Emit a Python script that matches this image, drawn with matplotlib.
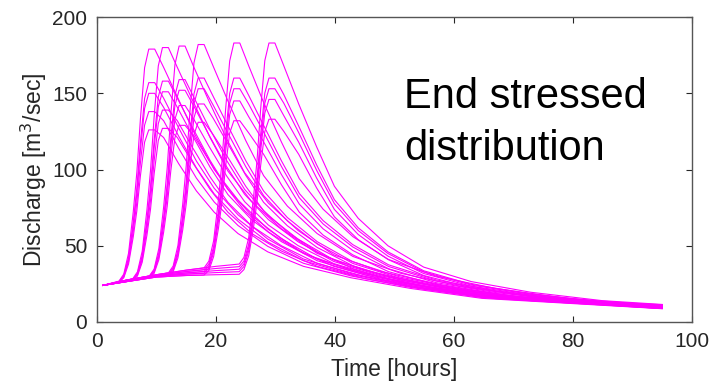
import matplotlib
matplotlib.use("Agg")
import matplotlib.pyplot as plt

plt.rcParams["font.family"] = ["Liberation Sans", "DejaVu Sans"]

# six storm timings (peak early -> late), five storm sizes in each
# hours: baseflow points, rising limb, flat crest
rise_times = [
    [1, 3.7, 4.5, 5.3, 6.1, 6.7, 7.3, 8.0, 8.7, 9.7],
    [1, 5, 6.0, 6.8, 7.6, 8.4, 9.0, 9.6, 10.3, 11.0, 12.0],
    [1, 5, 8.8, 9.6, 10.4, 11.2, 11.8, 12.4, 13.1, 13.8, 14.8],
    [1, 5, 10, 12.0, 12.8, 13.6, 14.4, 15.0, 15.6, 16.3, 17.0, 18.0],
    [1, 5, 10, 15, 18.0, 18.8, 19.6, 20.4, 21.0, 21.6, 22.3, 23.0, 24.0],
    [1, 5, 10, 15, 20, 23.9, 24.7, 25.5, 26.3, 26.9, 27.5, 28.2, 28.9, 29.9],
]

# discharge on the rising side, per timing group, per storm size
rise_q = [
    [
        [24, 26.8, 31.4, 45.1, 72.5, 98.3, 133.3, 166.8, 179, 179],
        [24, 26.6, 30.5, 42.2, 65.7, 87.9, 117.9, 146.6, 157, 157],
        [24, 26.4, 30.1, 41.2, 63.5, 84.5, 112.9, 140.1, 150, 150],
        [24, 26.2, 29.6, 39.6, 59.7, 78.7, 104.5, 129.1, 138, 138],
        [24, 26.0, 29.0, 38.0, 56.0, 73.0, 96.0, 118.0, 126, 126],
    ],
    [
        [24, 27.5, 28.3, 32.9, 46.5, 73.8, 99.6, 134.5, 167.9, 180, 180],
        [24, 27.2, 28.0, 31.9, 43.6, 67.0, 89.1, 119.0, 147.6, 158, 158],
        [24, 27.0, 27.8, 31.5, 42.6, 64.8, 85.7, 114.0, 141.1, 151, 151],
        [24, 26.7, 27.5, 30.8, 40.9, 61.0, 79.9, 105.5, 130.1, 139, 139],
        [24, 26.5, 27.2, 30.2, 39.2, 57.1, 74.1, 97.1, 119.0, 127, 127],
    ],
    [
        [24, 27.5, 30.2, 34.7, 48.3, 75.4, 101.1, 135.8, 168.9, 181, 181],
        [24, 27.2, 29.9, 33.8, 45.4, 68.6, 90.6, 120.3, 148.7, 159, 159],
        [24, 27.0, 29.5, 33.2, 44.2, 66.3, 87.1, 115.3, 142.2, 152, 152],
        [24, 26.7, 29.2, 32.6, 42.7, 63.0, 82.2, 108.2, 133.0, 142, 142],
        [24, 26.5, 28.9, 31.9, 40.9, 58.9, 75.9, 99.0, 121.0, 129, 129],
    ],
    [
        [24, 27.5, 31.0, 32.2, 36.7, 50.2, 77.1, 102.6, 137.1, 170.0, 182, 182],
        [24, 27.2, 30.6, 31.6, 35.5, 47.0, 70.1, 91.9, 121.5, 149.7, 160, 160],
        [24, 27.0, 30.2, 31.0, 34.7, 45.6, 67.6, 88.3, 116.4, 143.2, 153, 153],
        [24, 26.7, 29.9, 30.5, 33.9, 44.0, 64.3, 83.4, 109.3, 134.0, 143, 143],
        [24, 26.5, 29.5, 29.9, 32.9, 42.0, 60.2, 77.4, 100.7, 122.9, 131, 131],
    ],
    [
        [24, 27.5, 31.0, 34.0, 35.5, 39.9, 53.2, 79.8, 104.8, 138.8, 171.2, 183, 183],
        [24, 27.2, 30.6, 33.1, 34.3, 38.1, 49.4, 72.0, 93.4, 122.3, 149.9, 160, 160],
        [24, 27.0, 30.2, 32.2, 33.1, 36.7, 47.5, 69.1, 89.5, 117.0, 143.4, 153, 153],
        [24, 26.7, 29.9, 31.4, 32.0, 35.4, 45.6, 65.9, 85.1, 111.1, 136.0, 145, 145],
        [24, 26.5, 29.5, 30.5, 30.8, 33.8, 42.9, 61.2, 78.4, 101.6, 123.9, 132, 132],
    ],
    [
        [24, 27.5, 31.0, 34.0, 36.5, 38.0, 42.4, 55.4, 81.5, 106.2, 139.5, 171.4, 183, 183],
        [24, 27.2, 30.6, 33.1, 35.1, 36.3, 40.0, 51.1, 73.4, 94.4, 122.9, 150.1, 160, 160],
        [24, 27.0, 30.2, 32.2, 33.7, 34.6, 38.2, 48.8, 70.1, 90.2, 117.5, 143.5, 153, 153],
        [24, 26.7, 29.9, 31.4, 32.4, 33.0, 36.4, 46.6, 66.9, 86.1, 112.1, 137.0, 146, 146],
        [24, 26.5, 29.5, 30.5, 31.0, 31.3, 34.4, 43.5, 61.8, 79.1, 102.5, 124.9, 133, 133],
    ],
]

# hours on the falling side (last point = end of run)
fall_times = [
    [11.2, 13.7, 16.7, 19.7, 23.7, 28.7, 34.7, 42.7, 52.7, 64.7, 95],
    [13.5, 16.0, 19.0, 22.0, 26.0, 31.0, 37.0, 45.0, 55.0, 67.0, 95],
    [16.3, 18.8, 21.8, 24.8, 28.8, 33.8, 39.8, 47.8, 57.8, 69.8, 95],
    [19.5, 22.0, 25.0, 28.0, 32.0, 37.0, 43.0, 51.0, 61.0, 73.0, 95],
    [25.5, 28.0, 31.0, 34.0, 38.0, 43.0, 49.0, 57.0, 67.0, 79.0, 95],
    [31.4, 33.9, 36.9, 39.9, 43.9, 48.9, 54.9, 62.9, 72.9, 84.9, 95],
]

# recession discharge, per timing group, per storm size (end value last)
fall_q = [
    [
        [167, 146, 121, 100, 80, 61, 45, 34, 25, 17.5, 9.2],
        [146.8, 127.5, 105.6, 87.7, 70.3, 54.4, 41.3, 31.8, 23.7, 16.6, 9.0],
        [140.8, 122.1, 101.1, 84.0, 67.5, 52.5, 40.2, 31.2, 23.3, 16.4, 8.9],
        [132.0, 114.1, 94.4, 78.7, 63.3, 49.6, 38.5, 30.2, 22.7, 16.0, 8.8],
        [121, 104, 86, 72, 58, 46, 36.5, 29, 22, 15.5, 8.7],
    ],
    [
        [167, 146, 121, 99, 79, 61, 45, 34, 25, 17.5, 9.4],
        [146.8, 128.0, 106.0, 87.1, 69.8, 54.6, 41.3, 31.6, 23.5, 16.5, 9.2],
        [140.8, 122.6, 101.6, 83.6, 67.0, 52.7, 40.2, 30.9, 23.0, 16.2, 9.1],
        [132.0, 114.8, 95.2, 78.5, 63.0, 50.0, 38.5, 29.8, 22.3, 15.8, 9.0],
        [121, 105, 87, 72, 58, 46.5, 36.5, 28.5, 21.5, 15.3, 8.9],
    ],
    [
        [167, 145, 120, 98, 78, 60, 44, 33, 24.5, 17, 9.7],
        [147.2, 127.8, 105.9, 87.0, 69.6, 54.3, 40.7, 30.8, 23.0, 16.1, 9.5],
        [141.4, 122.8, 101.8, 83.8, 67.2, 52.6, 39.7, 30.2, 22.5, 15.9, 9.4],
        [132.8, 115.4, 95.7, 79.0, 63.6, 50.1, 38.3, 29.2, 21.8, 15.5, 9.3],
        [122, 106, 88, 73, 59, 47, 36.5, 28, 21, 15, 9.2],
    ],
    [
        [168, 145, 119, 96, 76, 58, 43, 32, 23.5, 16.5, 10.0],
        [148.2, 128.7, 105.8, 85.9, 68.5, 52.7, 39.5, 29.4, 21.7, 15.4, 9.8],
        [142.4, 123.9, 101.9, 82.9, 66.3, 51.2, 38.4, 28.6, 21.2, 15.1, 9.7],
        [133.8, 116.9, 96.2, 78.5, 63.1, 48.9, 36.9, 27.4, 20.5, 14.6, 9.6],
        [123, 108, 89, 73, 59, 46, 35, 26, 19.5, 14, 9.5],
    ],
    [
        [168, 144, 118, 94, 74, 56, 41, 30, 22, 15.5, 10.7],
        [148.6, 129.0, 105.7, 84.3, 66.5, 50.7, 37.5, 27.6, 20.5, 14.6, 10.5],
        [142.9, 124.6, 102.0, 81.5, 64.3, 49.2, 36.4, 26.9, 20.0, 14.4, 10.4],
        [134.6, 118.2, 96.7, 77.3, 61.1, 46.9, 34.9, 25.8, 19.3, 14.0, 10.3],
        [124, 110, 90, 72, 57, 44, 33, 24.5, 18.5, 13.5, 10.1],
    ],
    [
        [168, 143, 115, 89, 68, 50, 36, 26.5, 19.5, 14, 11.5],
        [149.1, 128.5, 103.1, 80.2, 61.8, 46.0, 33.6, 24.7, 18.4, 13.3, 11.3],
        [143.5, 124.2, 99.6, 77.6, 60.0, 44.9, 32.9, 24.2, 18.1, 13.1, 11.1],
        [135.3, 117.9, 94.5, 73.8, 57.4, 43.2, 31.8, 23.5, 17.6, 12.9, 11.0],
        [125, 110, 88, 69, 54, 41, 30.5, 22.5, 17, 12.5, 10.9],
    ],
]

fig = plt.figure(figsize=(7.26, 3.84), dpi=100)
ax = fig.add_axes([0.1336, 0.1615, 0.8196, 0.794])

for g in range(len(rise_times)):
    t = rise_times[g] + fall_times[g]
    for k in range(len(rise_q[g])):
        q = rise_q[g][k] + fall_q[g][k]
        ax.plot(t, q, color="#ff00ff", lw=0.8)

ax.set_xlim(0, 100)
ax.set_ylim(0, 200)
ax.set_xticks([0, 20, 40, 60, 80, 100])
ax.set_yticks([0, 50, 100, 150, 200])
ax.tick_params(direction="in", top=True, right=True, length=4, width=0.8,
               labelsize=15, colors="#262626", pad=7)
for s in ax.spines.values():
    s.set_color("#555555")
    s.set_linewidth(1.0)

ax.set_xlabel("Time [hours]", fontsize=16.5, color="#262626", labelpad=5)
ax.set_ylabel("Discharge [m$^3$/sec]", fontsize=16.5, color="#262626", labelpad=2)

ax.text(51.6, 106, "End stressed\ndistribution", fontsize=30, color="black",
        ha="left", va="baseline", linespacing=1.4)

fig.savefig("out.png", dpi=100)
